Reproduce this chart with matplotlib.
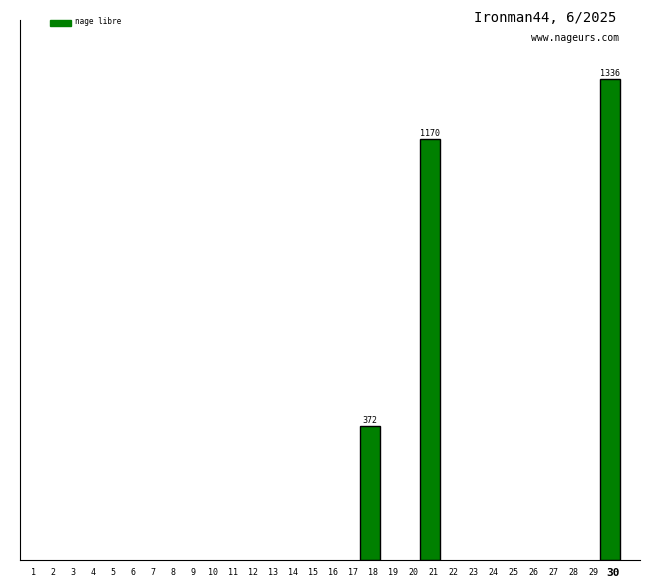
import matplotlib
matplotlib.use("Agg")
import matplotlib.pyplot as plt
from matplotlib.patches import Rectangle

days = list(range(1, 31))
bar_days = [18, 21, 30]
bar_values = [372, 1170, 1336]
title = "Ironman44, 6/2025"
site = "www.nageurs.com"
legend_label = "nage libre"
green = "#008000"

plt.rcParams['font.family'] = ['DejaVu Sans Mono']

fig = plt.figure(figsize=(6.6, 5.8), dpi=100)
ax = fig.add_axes([20/660, 20/580, 620/660, 540/580])

# each day occupies one slot [d-1, d]
ax.bar([d - 0.5 for d in bar_days], bar_values, width=1.0, color=green,
       edgecolor="black", linewidth=1)
for d, v in zip(bar_days, bar_values):
    ax.text(d - 0.5, v + 2, str(v), ha="center", va="bottom", fontsize=6)

ax.set_xlim(0, 31)
ax.set_ylim(0, 1500)
ax.spines["top"].set_visible(False)
ax.spines["right"].set_visible(False)
ax.spines["bottom"].set_bounds(0, 31)
ax.set_yticks([])
ax.set_xticks([d - 0.35 for d in days])
ax.set_xticklabels([str(d) for d in days])
ax.tick_params(axis="x", length=0, labelsize=6, pad=9)
for lab in ax.get_xticklabels():
    lab.set_verticalalignment("center")
lab = ax.get_xticklabels()[-1]
lab.set_fontsize(8)
lab.set_fontweight("bold")

fig.text(616/660, 1 - 18/580, title, ha="right", va="center", fontsize=10)
fig.text(619/660, 1 - 38/580, site, ha="right", va="center", fontsize=7)
fig.patches.append(Rectangle((50/660, 1 - 26/580), 21/660, 6/580,
                             transform=fig.transFigure, color=green))
fig.text(75/660, 1 - 22/580, legend_label, ha="left", va="center", fontsize=5.5)

fig.savefig("out.png", dpi=100)
